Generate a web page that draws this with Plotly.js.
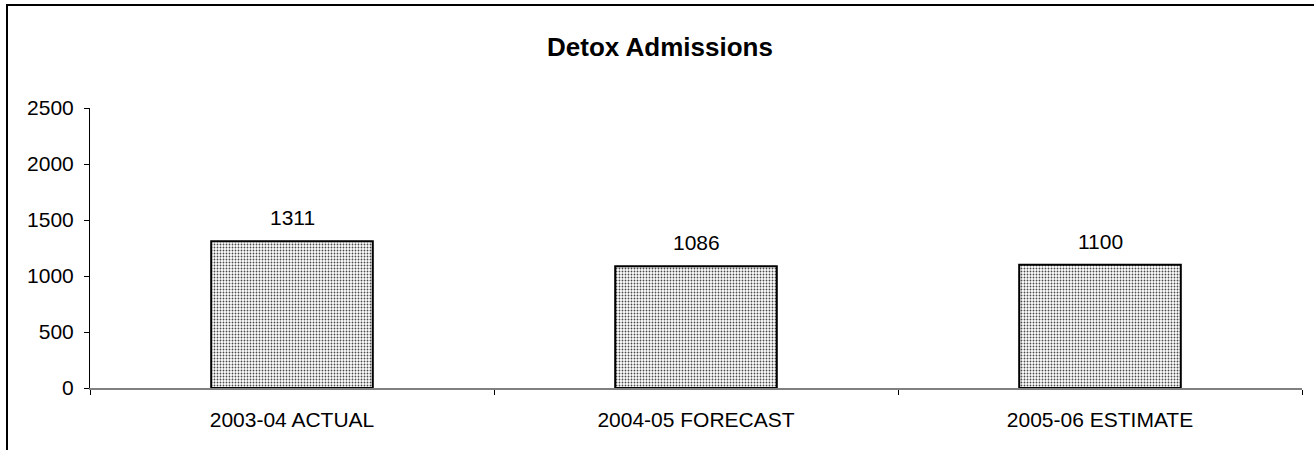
<!DOCTYPE html>
<html>
<head>
<meta charset="utf-8">
<script src="https://cdn.plot.ly/plotly-3.0.1.min.js"></script>
<style>
  html, body { margin: 0; padding: 0; background: #fff; }
  #frame { position: absolute; left: 6px; top: 4px; width: 1308px; height: 446px;
           border-left: 2px solid #000; border-top: 2px solid #000; box-sizing: border-box; }
  #chart { position: absolute; left: 6px; top: 4px; width: 1308px; height: 446px; }
</style>
</head>
<body>
<div id="chart"></div>
<div id="frame"></div>
<script>
const categories = ["2003-04 ACTUAL", "2004-05 FORECAST", "2005-06 ESTIMATE"];
const admissions = [1311, 1086, 1100];
const chartTitle = "Detox Admissions";
const yTicks = [0, 500, 1000, 1500, 2000, 2500];

const font = "Liberation Sans, Arial, sans-serif";

const trace = {
  type: "bar",
  x: categories,
  y: admissions,
  width: 0.4,
  marker: {
    color: "#ffffff",
    line: { color: "#000000", width: 2 },
    pattern: { shape: ".", size: 3, solidity: 0.3, fgcolor: "#4a4a4a", bgcolor: "#ffffff", fillmode: "replace" }
  },
  hoverinfo: "none"
};

const annotations = categories.map((c, i) => ({
  x: c, y: admissions[i], xref: "x", yref: "y",
  text: String(admissions[i]), showarrow: false,
  yanchor: "bottom", yshift: 10,
  font: { family: font, size: 21, color: "#000" }
}));

const layout = {
  width: 1308, height: 446,
  margin: { l: 84, r: 12, t: 104, b: 62 },
  paper_bgcolor: "#fff", plot_bgcolor: "#fff",
  showlegend: false,
  title: {
    text: "<b>" + chartTitle + "</b>",
    font: { family: font, size: 26, color: "#000" },
    x: 0.5, xanchor: "center", xref: "container",
    y: 1 - 43 / 446, yanchor: "middle"
  },
  xaxis: {
    type: "category",
    categoryarray: categories,
    range: [-0.5, 2.5],
    showline: true, linecolor: "#808080", linewidth: 2,
    ticks: "outside", tickson: "boundaries", ticklen: 5, tickcolor: "#000", tickwidth: 1,
    ticklabelstandoff: 12,
    tickfont: { family: font, size: 21, color: "#000" },
    showgrid: false, zeroline: false, fixedrange: true
  },
  xaxis2: {
    overlaying: "x", anchor: "y", type: "linear",
    range: [-0.5, 2.5],
    tickmode: "array", tickvals: [-0.5, 0.5, 1.5, 2.5],
    ticks: "inside", ticklen: 5, tickcolor: "#000", tickwidth: 1,
    showticklabels: false, showline: false, showgrid: false, zeroline: false, fixedrange: true
  },
  yaxis: {
    range: [0, 2500],
    tickmode: "array", tickvals: yTicks,
    showline: true, linecolor: "#000", linewidth: 1,
    ticks: "outside", ticklen: 5, tickcolor: "#000", tickwidth: 1,
    ticklabelstandoff: 6,
    tickfont: { family: font, size: 21, color: "#000" },
    showgrid: false, zeroline: false, fixedrange: true
  },
  yaxis2: {
    overlaying: "y", anchor: "x", range: [0, 2500],
    tickmode: "array", tickvals: yTicks,
    ticks: "inside", ticklen: 5, tickcolor: "#000", tickwidth: 1,
    showticklabels: false, showline: false, showgrid: false, zeroline: false, fixedrange: true
  },
  annotations: annotations
};

Plotly.newPlot("chart", [trace], layout, { staticPlot: true, displayModeBar: false });
</script>
</body>
</html>
